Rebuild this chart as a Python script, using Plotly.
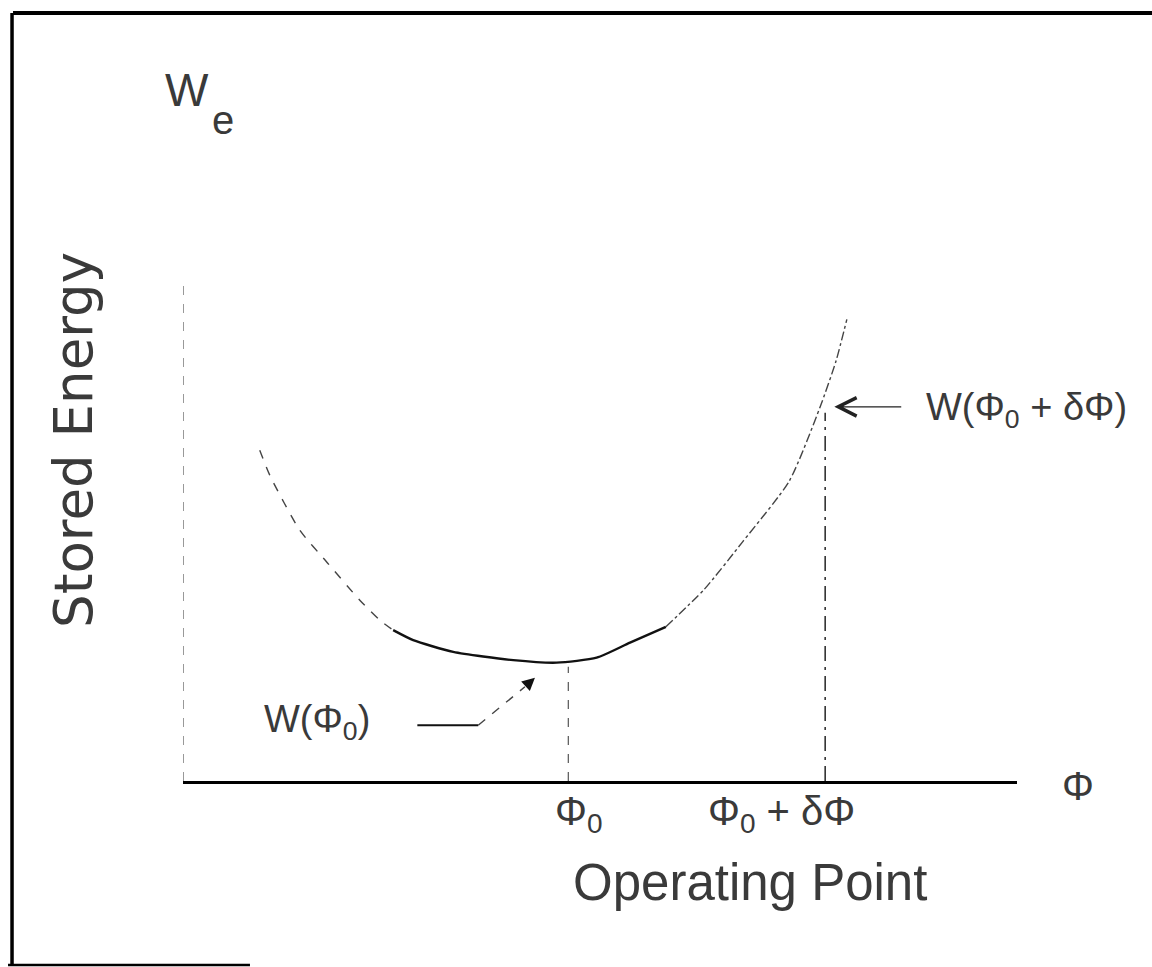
import plotly.graph_objects as go

# ---- data ----
phi = [0.92, 1.04, 1.40, 1.73, 2.12, 2.36, 2.52, 2.76, 3.24, 3.96,
       4.48, 4.96, 5.36, 5.79, 6.25, 6.71, 7.27, 7.64, 7.83, 7.96]
energy = [3.97, 3.67, 3.01, 2.62, 2.17, 1.93, 1.81, 1.69, 1.55, 1.45,
          1.42, 1.48, 1.66, 1.85, 2.30, 2.87, 3.60, 4.49, 5.04, 5.54]

phi0 = 4.62          # operating point
phi1 = 7.70          # operating point + delta
w_phi0 = 1.37        # energy at phi0 (guide height)
w_phi1 = 4.42        # energy at phi0 + delta (guide height)

tick_vals = [phi0, phi1]
tick_text = ["Φ<sub>0</sub>", "Φ<sub>0</sub> + δΦ"]

label_w0 = "W(Φ<sub>0</sub>)"
label_w1 = "W(Φ<sub>0</sub> + δΦ)"
x_title = "Operating Point"
y_title = "Stored Energy"

# pointer geometry for the two labels (data units)
w0_line_x = [2.81, 3.54]
w0_line_y = [0.67, 0.67]
w0_diag_x = [3.54, 4.10]
w0_diag_y = [0.67, 1.13]
w0_tip = (4.22, 1.24)
w1_tail = (8.63, 4.49)
w1_tip = (7.81, 4.49)

X_MAX = 10
Y_MAX = 6

TXT = "#3a3a3a"
FONT = "Liberation Sans, Arial, sans-serif"

fig = go.Figure()

# y axis (dashed)
fig.add_trace(go.Scatter(x=[0, 0], y=[0, Y_MAX], mode="lines",
                         line=dict(color="#555", width=1.2, dash="dash"),
                         hoverinfo="skip", showlegend=False))

# curve in three pieces (faded left, solid middle, dash-dot right)
segs = [(0, 7, dict(color="#444", width=1.4, dash="dash")),
        (6, 14, dict(color="#111", width=2.4)),
        (13, len(phi), dict(color="#444", width=1.4, dash="dashdot"))]
for a, b, ln in segs:
    fig.add_trace(go.Scatter(x=phi[a:b], y=energy[a:b], mode="lines",
                             line=dict(shape="spline", smoothing=0.6, **ln),
                             hoverinfo="skip", showlegend=False))

# vertical guides
fig.add_trace(go.Scatter(x=[phi0, phi0], y=[0, w_phi0], mode="lines",
                         line=dict(color="#555", width=1.2, dash="dash"),
                         hoverinfo="skip", showlegend=False))
fig.add_trace(go.Scatter(x=[phi1, phi1], y=[0, w_phi1], mode="lines",
                         line=dict(color="#333", width=1.6, dash="longdashdot"),
                         hoverinfo="skip", showlegend=False))

# pointer for W(phi0)
fig.add_trace(go.Scatter(x=w0_line_x, y=w0_line_y, mode="lines",
                         line=dict(color="#111", width=2),
                         hoverinfo="skip", showlegend=False))
fig.add_trace(go.Scatter(x=w0_diag_x, y=w0_diag_y, mode="lines",
                         line=dict(color="#444", width=1.4, dash="dash"),
                         hoverinfo="skip", showlegend=False))

ann = []
ann.append(dict(x=w0_tip[0], y=w0_tip[1], ax=w0_diag_x[1], ay=w0_diag_y[1],
                xref="x", yref="y", axref="x", ayref="y", text="",
                showarrow=True, arrowhead=2, arrowsize=1.6, arrowwidth=1.6,
                arrowcolor="#111"))
ann.append(dict(x=w1_tip[0], y=w1_tip[1], ax=w1_tail[0], ay=w1_tail[1],
                xref="x", yref="y", axref="x", ayref="y", text="",
                showarrow=True, arrowhead=5, arrowsize=3, arrowwidth=1.2,
                arrowcolor="#222"))

# labels
ann.append(dict(x=0.95, y=0.71, xref="x", yref="y", text=label_w0,
                showarrow=False, xanchor="left", yanchor="middle",
                font=dict(family=FONT, size=38, color=TXT)))
ann.append(dict(x=8.885, y=4.45, xref="x", yref="y", text=label_w1,
                showarrow=False, xanchor="left", yanchor="middle",
                font=dict(family=FONT, size=38, color=TXT)))

# tick labels
ann.append(dict(x=tick_vals[0], y=0, xref="x", yref="y", text=tick_text[0],
                showarrow=False, xanchor="left", yanchor="top",
                xshift=-15, yshift=-6,
                font=dict(family=FONT, size=40, color=TXT)))
ann.append(dict(x=tick_vals[1], y=0, xref="x", yref="y", text=tick_text[1],
                showarrow=False, xanchor="right", yanchor="top",
                xshift=32, yshift=-6,
                font=dict(family=FONT, size=40, color=TXT)))

# axis end symbol
ann.append(dict(x=X_MAX, y=0, xref="x", yref="y", text="Φ",
                showarrow=False, xanchor="center", yanchor="middle",
                xshift=61, yshift=-5,
                font=dict(family=FONT, size=40, color=TXT)))

# W_e at top of y axis
ann.append(dict(x=0, y=Y_MAX, xref="x", yref="y", text="W",
                showarrow=False, xanchor="center", yanchor="middle",
                xshift=4, yshift=191,
                font=dict(family=FONT, size=46, color=TXT)))
ann.append(dict(x=0, y=Y_MAX, xref="x", yref="y", text="e",
                showarrow=False, xanchor="center", yanchor="middle",
                xshift=40, yshift=161,
                font=dict(family=FONT, size=40, color=TXT)))

# axis titles
ann.append(dict(x=0.6799, y=-0.202, xref="paper", yref="paper", text=x_title,
                showarrow=False, xanchor="center", yanchor="middle",
                font=dict(family=FONT, size=51, color=TXT)))
ann.append(dict(x=-0.1319, y=0.682, xref="paper", yref="paper", text=y_title,
                showarrow=False, xanchor="center", yanchor="middle",
                textangle=-90,
                font=dict(family="DejaVu Sans, sans-serif", size=53, color=TXT)))

# frame (partial box of the scanned page)
shapes = [
    dict(type="line", xref="paper", yref="paper", x0=-0.2038, x1=1.17,
         y0=1.536, y1=1.536, line=dict(color="#000", width=4)),
    dict(type="line", xref="paper", yref="paper", x0=-0.2050, x1=-0.2050,
         y0=1.536, y1=-0.368, line=dict(color="#000", width=3.5)),
    dict(type="line", xref="paper", yref="paper", x0=-0.2098, x1=0.0803,
         y0=-0.368, y1=-0.368, line=dict(color="#000", width=2.5)),
]

fig.update_layout(
    width=1152, height=967,
    margin=dict(l=183, r=135, t=281, b=186),
    paper_bgcolor="white", plot_bgcolor="white",
    showlegend=False,
    annotations=ann, shapes=shapes,
    xaxis=dict(range=[0, X_MAX], showgrid=False, zeroline=False,
               showline=True, linecolor="#000", linewidth=3,
               showticklabels=False, ticks="", tickvals=tick_vals,
               fixedrange=True),
    yaxis=dict(range=[0, Y_MAX], showgrid=False, zeroline=False,
               showline=False, showticklabels=False, ticks="",
               fixedrange=True),
)

fig.write_html("out.html",
               config={"displayModeBar": False, "staticPlot": True},
               post_script="document.body.style.margin='0';"
                           "document.body.style.overflow='hidden';")
